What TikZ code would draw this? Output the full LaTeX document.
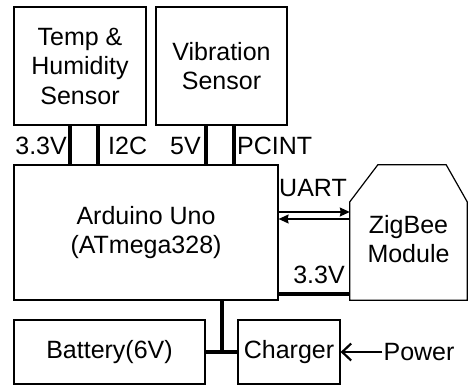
\documentclass[tikz,border=0pt]{standalone}
\usepackage{fontspec}
\setmainfont{Liberation Sans}
\usetikzlibrary{arrows.meta,calc}

\begin{document}
\begin{tikzpicture}[x=1pt,y=-1pt,>=Stealth,
		box/.style={draw, line width=1.2pt, align=center, inner sep=0pt},
		bus/.style={line width=3.5pt},
		lbl/.style={inner sep=1pt},
		link/.style={line width=1.4pt, -{Stealth[length=10pt,width=9pt,inset=1pt]}},
		every node/.style={font=\fontsize{25}{29.5}\selectfont}]
			\useasboundingbox (0,0) rectangle (468,386);

			% sensors
			\node (Temp) [box, minimum width=132pt, minimum height=118pt] at (80,66) {Temp \&\\Humidity\\Sensor};
			\node (Vib) [box, minimum width=131pt, minimum height=118pt] at (221.5,66) {Vibration\\Sensor};

			% controller and radio
			\node (Arduino) [box, minimum width=264pt, minimum height=135pt] at (146,232.5) {Arduino Uno\\(ATmega328)};
			\node (ZigBee) [align=center, inner sep=0pt, minimum width=117pt, minimum height=135pt] at (408.5,239) {ZigBee\\Module};
			\draw [line width=1.2pt] (ZigBee.south west) ++(0,-6.5) -- ($(ZigBee.north west)+(0,30.5)$) -- ($(ZigBee.north west)+(28,-6.5)$)
				-- ($(ZigBee.north east)+(-21,-6.5)$) -- ($(ZigBee.north east)+(0,30.5)$) -- ($(ZigBee.south east)+(0,-6.5)$) -- cycle;

			% power
			\node (Battery) [box, minimum width=191pt, minimum height=64pt] at (109.5,352) {Battery(6V)};
			\node (Charger) [box, minimum width=102pt, minimum height=64pt] at (289,352) {Charger};
			\node (Power) [lbl] at (419,352) {Power};

			% sensor buses
			\draw [bus] ([xshift=-10pt]Temp.south) -- ([xshift=-10pt]Temp.south |- Arduino.north);
			\draw [bus] ([xshift=18pt]Temp.south) -- ([xshift=18pt]Temp.south |- Arduino.north);
			\draw [bus] ([xshift=-15.5pt]Vib.south) -- ([xshift=-15.5pt]Vib.south |- Arduino.north);
			\draw [bus] ([xshift=12.5pt]Vib.south) -- ([xshift=12.5pt]Vib.south |- Arduino.north);
			\node [lbl, anchor=east] at (68,146) {3.3V};
			\node [lbl, anchor=west] at (107,146) {I2C};
			\node [lbl, anchor=east] at (202,146) {5V};
			\node [lbl, anchor=west] at (236,146) {PCINT};

			% UART and supply to the radio
			\draw [link] ([yshift=20.5pt]Arduino.east) -- ([yshift=27pt]ZigBee.west);
			\draw [link] ([yshift=20pt]ZigBee.west) -- ([yshift=13.5pt]Arduino.east);
			\node [lbl] at (313,188) {UART};
			\draw [bus] ([yshift=-61.5pt]Arduino.east) -- ([yshift=-55pt]ZigBee.west);
			\node [lbl] at (319,275) {3.3V};

			% battery, charger
			\draw [bus] (Battery.east) -- (Charger.west);
			\draw [bus] ([xshift=76pt]Arduino.south) -- ([xshift=76pt]Arduino.south |- Battery.east);
			\draw [line width=2pt, -{Straight Barb[length=9pt,width=17pt,line width=2.2pt]}] (Power.west) -- (Charger.east);
		\end{tikzpicture}
\end{document}
